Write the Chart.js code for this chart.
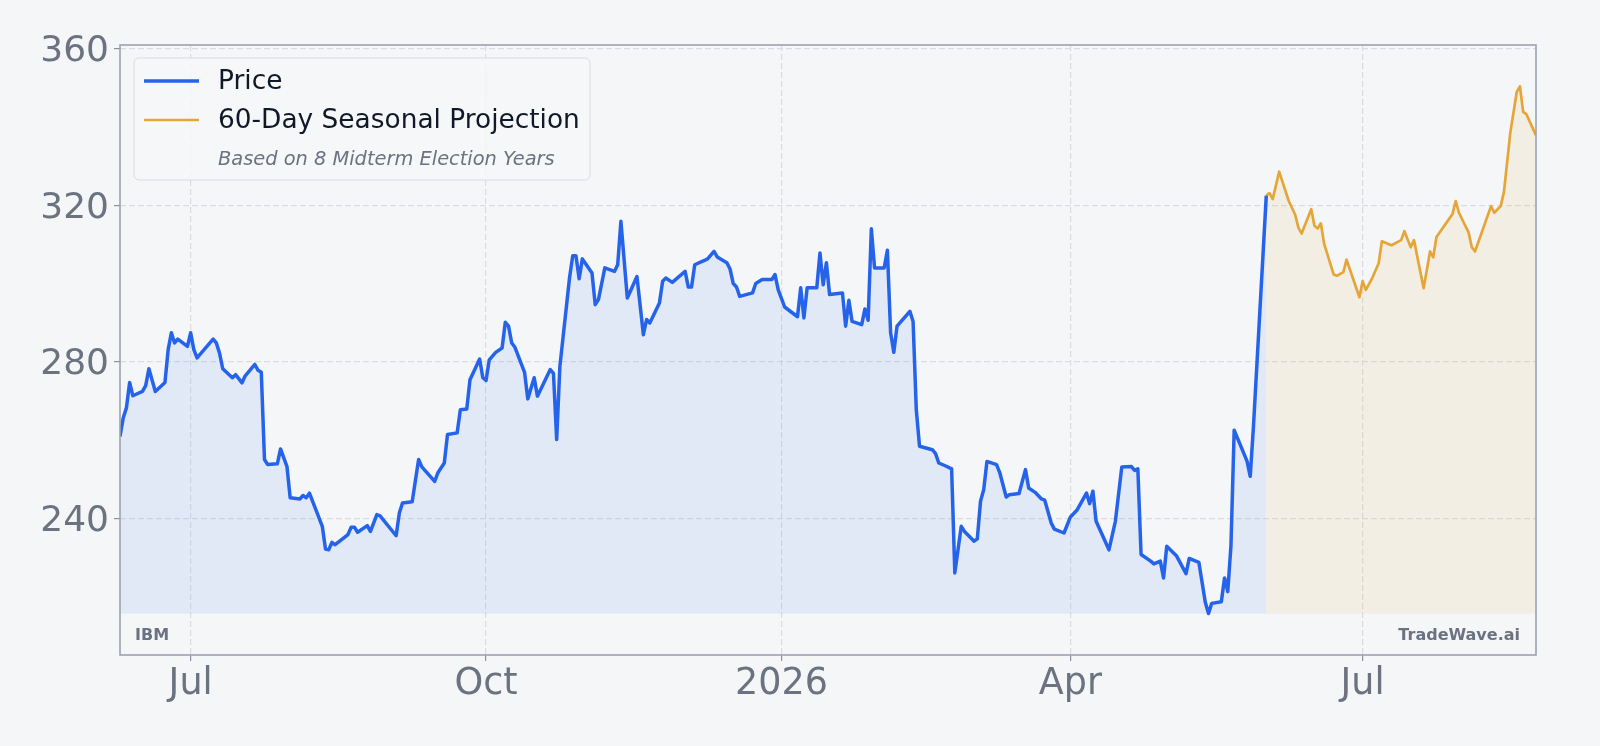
<!DOCTYPE html>
<html>
<head>
<meta charset="utf-8">
<script src="https://cdn.jsdelivr.net/npm/chart.js@4.4.1/dist/chart.umd.min.js"></script>
<style>
  html, body { margin: 0; padding: 0; background: #f4f6f8; }
  #wrap { width: 1600px; height: 746px; }
</style>
</head>
<body>
<div id="wrap"><canvas id="ibmChart" width="1600" height="746"></canvas></div>
<script>
// daily closes, June 2025 -> June 2026
const priceDates = [
  "2025-06-09","2025-06-10","2025-06-11","2025-06-12","2025-06-13","2025-06-16","2025-06-17","2025-06-18","2025-06-20","2025-06-23",
  "2025-06-24","2025-06-25","2025-06-26","2025-06-27","2025-06-30","2025-07-01","2025-07-02","2025-07-03","2025-07-08","2025-07-09",
  "2025-07-10","2025-07-11","2025-07-14","2025-07-15","2025-07-17","2025-07-18","2025-07-21","2025-07-22","2025-07-23","2025-07-24",
  "2025-07-25","2025-07-28","2025-07-29","2025-07-31","2025-08-01","2025-08-04","2025-08-05","2025-08-06","2025-08-07","2025-08-11",
  "2025-08-12","2025-08-13","2025-08-14","2025-08-15","2025-08-19","2025-08-20","2025-08-21","2025-08-22","2025-08-25","2025-08-26",
  "2025-08-28","2025-08-29","2025-09-03","2025-09-04","2025-09-05","2025-09-08","2025-09-10","2025-09-11","2025-09-15","2025-09-16",
  "2025-09-18","2025-09-19","2025-09-22","2025-09-23","2025-09-25","2025-09-26","2025-09-29","2025-09-30","2025-10-01","2025-10-02",
  "2025-10-04","2025-10-06","2025-10-07","2025-10-08","2025-10-09","2025-10-10","2025-10-13","2025-10-14","2025-10-16","2025-10-17",
  "2025-10-21","2025-10-22","2025-10-23","2025-10-24","2025-10-27","2025-10-28","2025-10-29","2025-10-30","2025-10-31","2025-11-03",
  "2025-11-04","2025-11-05","2025-11-07","2025-11-10","2025-11-11","2025-11-12","2025-11-14","2025-11-17","2025-11-19","2025-11-20",
  "2025-11-21","2025-11-24","2025-11-25","2025-11-26","2025-11-28","2025-12-02","2025-12-03","2025-12-04","2025-12-05","2025-12-08",
  "2025-12-09","2025-12-11","2025-12-12","2025-12-15","2025-12-16","2025-12-17","2025-12-18","2025-12-19","2025-12-23","2025-12-24",
  "2025-12-26","2025-12-29","2025-12-30","2025-12-31","2026-01-02","2026-01-06","2026-01-07","2026-01-08","2026-01-09","2026-01-12",
  "2026-01-13","2026-01-14","2026-01-15","2026-01-16","2026-01-20","2026-01-21","2026-01-22","2026-01-23","2026-01-26","2026-01-27",
  "2026-01-28","2026-01-29","2026-01-30","2026-02-02","2026-02-03","2026-02-04","2026-02-05","2026-02-06","2026-02-10","2026-02-11",
  "2026-02-12","2026-02-13","2026-02-17","2026-02-18","2026-02-19","2026-02-21","2026-02-23","2026-02-24","2026-02-26","2026-02-27",
  "2026-03-02","2026-03-03","2026-03-04","2026-03-05","2026-03-06","2026-03-09","2026-03-10","2026-03-12","2026-03-13","2026-03-16",
  "2026-03-18","2026-03-19","2026-03-21","2026-03-23","2026-03-24","2026-03-26","2026-03-27","2026-03-30","2026-04-01","2026-04-03",
  "2026-04-06","2026-04-07","2026-04-08","2026-04-09","2026-04-13","2026-04-15","2026-04-17","2026-04-20","2026-04-21","2026-04-22",
  "2026-04-23","2026-04-26","2026-04-27","2026-04-29","2026-04-30","2026-05-01","2026-05-04","2026-05-07","2026-05-08","2026-05-11",
  "2026-05-13","2026-05-14","2026-05-15","2026-05-18","2026-05-19","2026-05-20","2026-05-21","2026-05-22","2026-05-26","2026-05-27",
  "2026-05-28","2026-06-01"
];
const priceValues = [
  260.9, 265.6, 268.2, 274.7, 271.3, 272.4, 273.9, 278.2, 272.4, 274.7,
  283.1, 287.4, 284.8, 285.8, 283.9, 287.4, 283.1, 281.0, 285.8, 284.8,
  282.2, 278.2, 275.9, 276.7, 274.6, 276.4, 279.3, 277.8, 277.3, 255.0,
  253.7, 253.9, 257.7, 253.2, 245.2, 244.9, 245.8, 245.2, 246.4, 237.9,
  232.1, 231.9, 233.8, 233.2, 235.8, 237.7, 237.7, 236.4, 238.1, 236.6,
  240.9, 240.6, 235.5, 241.3, 243.9, 244.2, 255.0, 253.1, 249.4, 251.6,
  254.1, 261.4, 261.8, 267.7, 267.9, 275.4, 280.7, 275.9, 275.2, 280.5,
  282.4, 283.5, 290.1, 289.1, 284.8, 283.7, 277.3, 270.5, 275.9, 271.2,
  278.0, 277.0, 260.1, 278.8, 301.4, 307.1, 307.1, 301.2, 306.3, 302.7,
  294.6, 295.9, 304.0, 303.1, 304.8, 315.9, 296.3, 301.8, 286.9, 290.8,
  289.9, 295.0, 300.6, 301.4, 300.3, 303.1, 299.1, 299.1, 304.8, 305.9,
  306.3, 308.2, 306.8, 305.3, 303.7, 300.0, 299.1, 296.7, 297.6, 300.0,
  301.0, 301.0, 302.3, 298.4, 294.0, 291.5, 298.9, 291.2, 298.9, 298.9,
  307.8, 299.7, 305.3, 297.2, 297.6, 289.1, 295.7, 290.3, 289.5, 293.5,
  290.6, 314.0, 304.0, 304.0, 308.5, 287.4, 282.4, 289.1, 292.9, 290.3,
  267.7, 258.4, 257.5, 256.5, 254.1, 253.4, 252.6, 226.0, 237.9, 236.6,
  234.1, 234.7, 244.3, 247.3, 254.5, 253.7, 251.6, 245.4, 246.0, 246.3,
  252.4, 247.7, 246.6, 244.9, 244.6, 238.8, 237.2, 236.2, 240.3, 242.0,
  246.4, 243.7, 246.9, 239.2, 231.9, 239.2, 253.1, 253.2, 252.2, 252.6,
  230.7, 229.0, 228.3, 229.0, 224.7, 232.8, 230.4, 225.8, 229.7, 228.7,
  218.5, 215.6, 218.2, 218.6, 224.7, 221.2, 233.0, 262.5, 254.6, 250.7,
  263.4, 322.5
];

// 60-day seasonal projection
const projDates = [
  "2026-06-01","2026-06-02","2026-06-03","2026-06-05","2026-06-08","2026-06-10","2026-06-11","2026-06-12","2026-06-15","2026-06-16",
  "2026-06-17","2026-06-18","2026-06-19","2026-06-22","2026-06-23","2026-06-25","2026-06-26","2026-06-30","2026-07-01","2026-07-02",
  "2026-07-04","2026-07-06","2026-07-07","2026-07-10","2026-07-13","2026-07-14","2026-07-16","2026-07-17","2026-07-20","2026-07-22",
  "2026-07-23","2026-07-24","2026-07-28","2026-07-29","2026-07-30","2026-07-31","2026-08-03","2026-08-04","2026-08-05","2026-08-10",
  "2026-08-11","2026-08-13","2026-08-14","2026-08-16","2026-08-18","2026-08-19","2026-08-20","2026-08-21","2026-08-24"
];
const projValues = [
  322.5, 323.1, 321.6, 328.6, 321.1, 317.6, 314.3, 312.8, 319.0, 314.8,
  314.1, 315.4, 310.2, 302.3, 302.0, 302.9, 306.1, 296.5, 300.6, 298.4,
  301.4, 305.2, 310.8, 309.8, 311.1, 313.4, 309.3, 311.1, 298.8, 308.2,
  306.7, 311.9, 316.6, 317.8, 321.1, 318.1, 313.1, 309.3, 308.2, 319.8,
  318.1, 319.8, 323.3, 338.6, 349.0, 350.4, 343.9, 343.3, 337.9
];

const xTickDates = ["2025-07-01", "2025-10-01", "2026-01-01", "2026-04-01", "2026-07-01"];
const xTickLabels = ["Jul", "Oct", "2026", "Apr", "Jul"];
const yTickValues = [240, 280, 320, 360];

const symbol = "IBM";
const brand = "TradeWave.ai";
const legendNote = "Based on 8 Midterm Election Years";

const BG = "#f4f6f8";
const BLUE = "#2563eb";
const ORANGE = "#e6a537";
const MUTED = "#6b7280";
const FONT = "'DejaVu Sans', sans-serif";

function dayNum(s) {
  const [y, m, d] = s.split("-").map(Number);
  return Date.UTC(y, m - 1, d) / 86400000;
}

const baseline = Math.min(...priceValues);

const decor = {
  id: "decor",
  beforeDraw(chart) {
    const ctx = chart.ctx;
    ctx.save();
    ctx.fillStyle = BG;
    ctx.fillRect(0, 0, chart.width, chart.height);
    ctx.restore();
  },
  afterDraw(chart) {
    const { ctx, chartArea: a } = chart;
    ctx.save();

    // frame
    ctx.strokeStyle = "#9ca3af";
    ctx.lineWidth = 1.6;
    ctx.strokeRect(a.left, a.top, a.right - a.left, a.bottom - a.top);

    // corner labels
    ctx.fillStyle = MUTED;
    ctx.font = "bold 16px " + FONT;
    ctx.textBaseline = "middle";
    ctx.textAlign = "left";
    ctx.fillText(symbol, a.left + 15, a.bottom - 19);
    ctx.textAlign = "right";
    ctx.fillText(brand, a.right - 16, a.bottom - 19);

    // legend
    const lx = a.left + 14, ly = a.top + 13, lw = 456, lh = 122;
    ctx.beginPath();
    ctx.roundRect(lx, ly, lw, lh, 5);
    ctx.fillStyle = "rgba(246,247,249,0.85)";
    ctx.fill();
    ctx.strokeStyle = "#d7dbe0";
    ctx.lineWidth = 1;
    ctx.stroke();

    const rows = [
      { label: "Price", color: BLUE, width: 3.5, y: ly + 23 },
      { label: "60-Day Seasonal Projection", color: ORANGE, width: 2.7, y: ly + 62 }
    ];
    ctx.textAlign = "left";
    ctx.textBaseline = "middle";
    rows.forEach(r => {
      ctx.beginPath();
      ctx.moveTo(lx + 10, r.y);
      ctx.lineTo(lx + 65, r.y);
      ctx.strokeStyle = r.color;
      ctx.lineWidth = r.width;
      ctx.stroke();
      ctx.fillStyle = "#111827";
      ctx.font = "26.4px " + FONT;
      ctx.fillText(r.label, lx + 84, r.y + 1);
    });
    ctx.fillStyle = MUTED;
    ctx.font = "italic 19.4px " + FONT;
    ctx.fillText(legendNote, lx + 84, ly + 102);

    ctx.restore();
  }
};

const gridOpts = {
  color: "#d9dde3",
  lineWidth: 1.2,
  tickLength: 6,
  tickColor: "#8c929b",
  tickWidth: 1.2,
  tickBorderDash: []
};

new Chart(document.getElementById("ibmChart"), {
  type: "line",
  data: {
    datasets: [
      {
        label: "Price",
        data: priceDates.map((d, i) => ({ x: dayNum(d), y: priceValues[i] })),
        borderColor: BLUE,
        borderWidth: 3.5,
        backgroundColor: "rgba(37,99,235,0.085)",
        fill: { value: baseline },
        pointRadius: 0,
        tension: 0,
        borderJoinStyle: "round"
      },
      {
        label: "60-Day Seasonal Projection",
        data: projDates.map((d, i) => ({ x: dayNum(d), y: projValues[i] })),
        borderColor: ORANGE,
        borderWidth: 2.7,
        backgroundColor: "rgba(230,165,55,0.1)",
        fill: { value: baseline },
        pointRadius: 0,
        tension: 0,
        borderJoinStyle: "round"
      }
    ]
  },
  options: {
    responsive: false,
    devicePixelRatio: 1,
    animation: false,
    layout: { padding: { top: 45, right: 64, left: 0, bottom: 0 } },
    plugins: { legend: { display: false }, tooltip: { enabled: false } },
    scales: {
      x: {
        type: "linear",
        min: dayNum(priceDates[0]),
        max: dayNum(projDates[projDates.length - 1]),
        afterBuildTicks: s => { s.ticks = xTickDates.map(d => ({ value: dayNum(d) })); },
        afterFit: s => { s.height = 91; },
        ticks: {
          autoSkip: false,
          maxRotation: 0,
          padding: 2,
          color: MUTED,
          font: { family: FONT, size: 36.5 },
          callback: (v, i) => xTickLabels[i]
        },
        grid: gridOpts,
        border: { display: false, dash: [6, 3] }
      },
      y: {
        min: 205,
        max: 361,
        afterBuildTicks: s => { s.ticks = yTickValues.map(v => ({ value: v })); },
        afterFit: s => { s.width = 120; },
        ticks: {
          padding: 5,
          labelOffset: 3,
          color: MUTED,
          font: { family: FONT, size: 36 },
          callback: v => String(v)
        },
        grid: gridOpts,
        border: { display: false, dash: [6, 3] }
      }
    }
  },
  plugins: [decor]
});
</script>
</body>
</html>
